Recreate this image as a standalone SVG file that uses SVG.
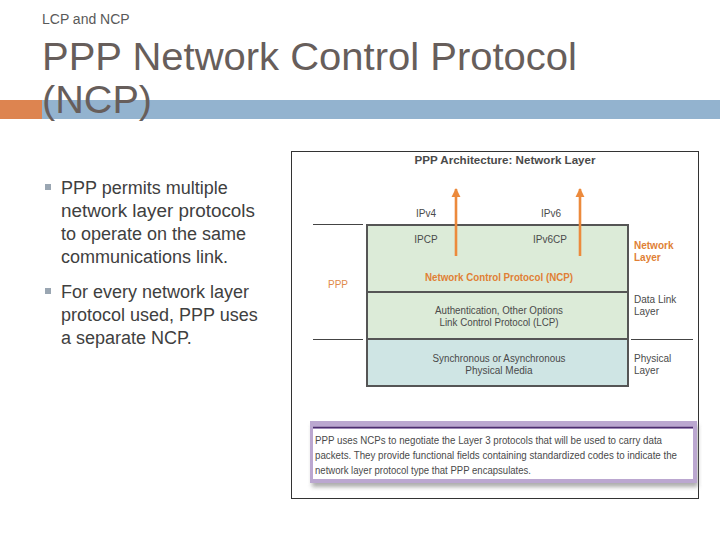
<svg xmlns="http://www.w3.org/2000/svg" width="720" height="540" viewBox="0 0 720 540">
<defs>
<style>
.sans{font-family:"Liberation Sans",Arial,sans-serif}
.d{font-family:"Liberation Sans",Arial,sans-serif;font-size:10px;fill:#4a4a4a}
.o{fill:#e07f35}
.b{font-size:18px;fill:#404040}
.box{stroke:#555;stroke-width:2}
.arrow{stroke:#ec8a3c;stroke-width:2.6;fill:none}
.rule{stroke:#444;stroke-width:1}
</style>
<marker id="ah" viewBox="0 0 10 10" refX="9" refY="5" markerWidth="3.6" markerHeight="3.6" orient="auto" markerUnits="strokeWidth">
<path d="M0,0 L10,5 L0,10 z" fill="#ec8a3c"/>
</marker>
<filter id="sh" x="-5%" y="-20%" width="110%" height="150%">
<feGaussianBlur stdDeviation="2"/>
</filter>
</defs>
<rect width="720" height="540" fill="#fff"/>
<g id="header">
<text class="sans" x="42" y="24" font-size="14" fill="#595959">LCP and NCP</text>
<rect x="0" y="100" width="42" height="19" fill="#dd8450"/>
<rect x="42" y="100" width="678" height="19" fill="#93b3cf"/>
<text class="sans" x="42" y="70" font-size="39" fill="#675e5b" textLength="535" lengthAdjust="spacingAndGlyphs">PPP Network Control Protocol</text>
<text class="sans" x="42" y="113" font-size="39" fill="#675e5b" textLength="110" lengthAdjust="spacingAndGlyphs">(NCP)</text>
</g>
<g id="bullets" class="sans">
<rect x="45" y="184" width="6" height="6" fill="#9aa6b2"/>
<text class="b" x="61" y="194">PPP permits multiple</text>
<text class="b" x="61" y="217" textLength="194" lengthAdjust="spacingAndGlyphs">network layer protocols</text>
<text class="b" x="61" y="240">to operate on the same</text>
<text class="b" x="61" y="263">communications link.</text>
<rect x="45" y="288" width="6" height="6" fill="#9aa6b2"/>
<text class="b" x="61" y="298">For every network layer</text>
<text class="b" x="61" y="321">protocol used, PPP uses</text>
<text class="b" x="61" y="344">a separate NCP.</text>
</g>
<g id="figure">
<rect x="291.5" y="151.5" width="407" height="347" fill="#fff" stroke="#333" stroke-width="1"/>
<text class="d" x="505" y="164" text-anchor="middle" font-size="11.5" font-weight="bold" fill="#444" textLength="181" lengthAdjust="spacingAndGlyphs">PPP Architecture: Network Layer</text>
</g>
<g id="rules">
<line class="rule" x1="313" y1="224.5" x2="363" y2="224.5"/>
<line class="rule" x1="313" y1="339.5" x2="363" y2="339.5"/>
<line class="rule" x1="631" y1="339.5" x2="693" y2="339.5"/>
</g>
<g id="ncp-layer">
<rect class="box" x="367" y="225" width="261" height="67" fill="#dcebd8"/>
<text class="d" x="426" y="243" text-anchor="middle" fill="#777">IPCP</text>
<text class="d" x="550" y="243" text-anchor="middle" fill="#777">IPv6CP</text>
<text class="d o" x="499" y="281" text-anchor="middle" font-weight="bold" textLength="148" lengthAdjust="spacingAndGlyphs" style="fill:#e07f35">Network Control Protocol (NCP)</text>
</g>
<g id="lcp-layer">
<rect class="box" x="367" y="292" width="261" height="47" fill="#dcebd8"/>
<text class="d" x="499" y="314" text-anchor="middle" textLength="128" lengthAdjust="spacingAndGlyphs">Authentication, Other Options</text>
<text class="d" x="499" y="326" text-anchor="middle" textLength="119" lengthAdjust="spacingAndGlyphs">Link Control Protocol (LCP)</text>
</g>
<g id="physical-layer">
<rect class="box" x="367" y="339" width="261" height="47" fill="#cfe5e4"/>
<text class="d" x="499" y="362" text-anchor="middle" textLength="133" lengthAdjust="spacingAndGlyphs">Synchronous or Asynchronous</text>
<text class="d" x="499" y="374" text-anchor="middle">Physical Media</text>
</g>
<g id="labels">
<text class="d" x="426" y="217" text-anchor="middle" fill="#333">IPv4</text>
<text class="d" x="551" y="217" text-anchor="middle" fill="#333">IPv6</text>
<text class="d" x="328" y="288" style="fill:#e08a4a">PPP</text>
<text class="d" x="634" y="249" font-weight="bold" style="fill:#e07f35">Network</text>
<text class="d" x="634" y="261" font-weight="bold" style="fill:#e07f35">Layer</text>
<text class="d" x="634" y="303">Data Link</text>
<text class="d" x="634" y="315">Layer</text>
<text class="d" x="634" y="362">Physical</text>
<text class="d" x="634" y="374">Layer</text>
</g>
<g id="connectors">
<line class="arrow" x1="456" y1="256" x2="456" y2="189" marker-end="url(#ah)"/>
<line class="arrow" x1="580" y1="256" x2="580" y2="189" marker-end="url(#ah)"/>
</g>
<g id="caption">
<rect x="312" y="425" width="386" height="62" fill="#777" opacity="0.6" filter="url(#sh)"/>
<rect x="310" y="421" width="387" height="62" fill="#bba7d0"/>
<line x1="313" y1="427.5" x2="693" y2="427.5" stroke="#4b2d6e" stroke-width="1.5"/>
<rect x="313" y="429" width="380" height="50" fill="#fff"/>
<text class="d" x="315" y="444" font-size="9.5" fill="#333" textLength="347" lengthAdjust="spacingAndGlyphs">PPP uses NCPs to negotiate the Layer 3 protocols that will be used to carry data</text>
<text class="d" x="315" y="459" font-size="9.5" fill="#333" textLength="362" lengthAdjust="spacingAndGlyphs">packets. They provide functional fields containing standardized codes to indicate the</text>
<text class="d" x="315" y="474" font-size="9.5" fill="#333" textLength="216" lengthAdjust="spacingAndGlyphs">network layer protocol type that PPP encapsulates.</text>
</g>
</svg>
